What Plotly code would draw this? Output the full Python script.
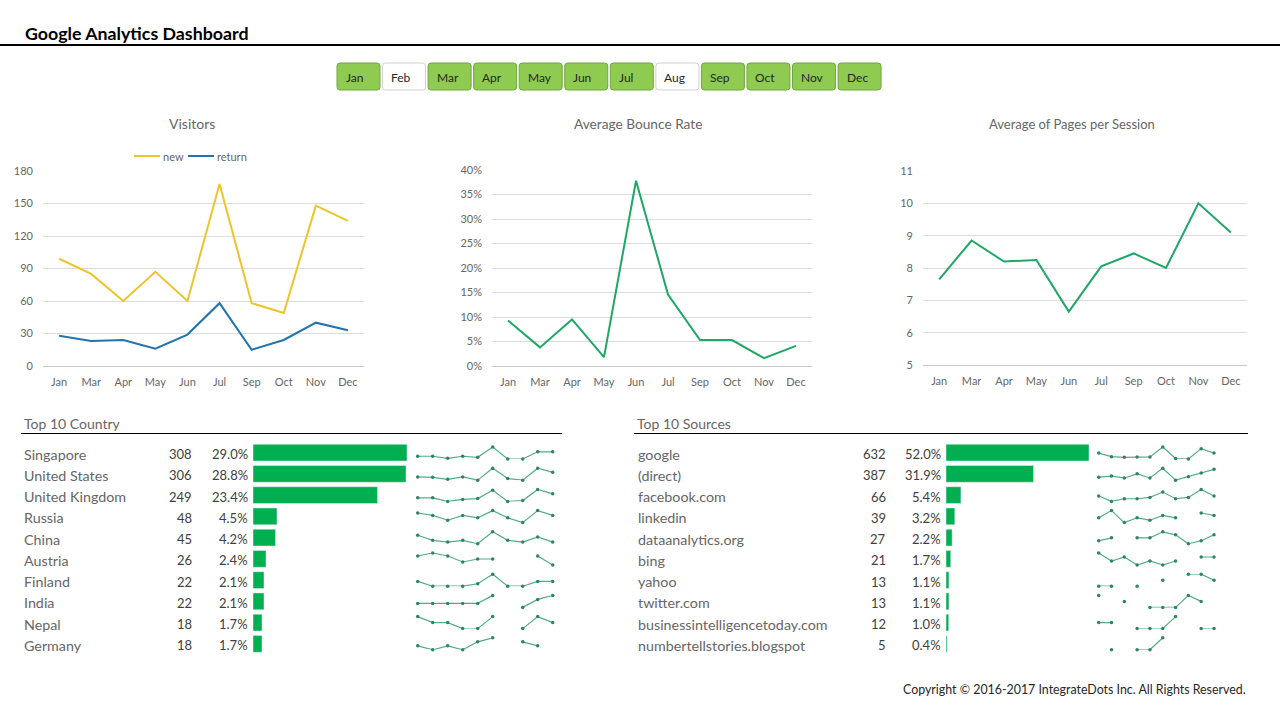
import plotly.graph_objects as go

W, H = 1280, 711
FONT = "Lato"
GREY = "#666666"
DARK = "#404040"
NEW_COLOR = "#EFC42B"
RETURN_COLOR = "#2274AE"

months = ["Jan", "Mar", "Apr", "May", "Jun", "Jul", "Sep", "Oct", "Nov", "Dec"]
buttons = ["Jan", "Feb", "Mar", "Apr", "May", "Jun", "Jul", "Aug", "Sep", "Oct", "Nov", "Dec"]
buttons_off = ["Feb", "Aug"]

visitors_new = [99, 85, 60, 87, 60, 168, 58, 49, 148, 134]
visitors_return = [28, 23, 24, 16, 29, 58, 15, 24, 40, 33]
bounce_rate = [0.093, 0.038, 0.095, 0.018, 0.378, 0.146, 0.053, 0.053, 0.016, 0.041]
pages_per_session = [7.65, 8.85, 8.2, 8.25, 6.65, 8.05, 8.45, 8.0, 10.0, 9.1]

countries = ["Singapore", "United States", "United Kingdom", "Russia", "China",
             "Austria", "Finland", "India", "Nepal", "Germany"]
country_counts = [308, 306, 249, 48, 45, 26, 22, 22, 18, 18]
country_pct = ["29.0%", "28.8%", "23.4%", "4.5%", "4.2%", "2.4%", "2.1%", "2.1%", "1.7%", "1.7%"]
country_monthly = [
    [28, 28, 22, 28, 25, 55, 20, 20, 41, 41],
    [28, 27, 22, 28, 20, 49, 24, 20, 49, 39],
    [23, 23, 14, 19, 21, 42, 14, 16, 44, 33],
    [6, 5, 3, 5, 4, 7, 4, 2, 7, 5],
    [7, 4, 3, 4, 2, 9, 4, 3, 6, 3],
    [4, 5, 4, 2, 3, 3, None, None, 4, 1],
    [3, 1, 1, 1, 2, 6, 1, 1, 3, 3],
    [2, 2, 2, 2, 2, 4, None, 1, 3, 4],
    [3, 2, 2, 1, 1, 3, None, 1, 3, 2],
    [2, 1, 2, 1, 3, 4, None, 3, 2, None],
]

sources = ["google", "(direct)", "facebook.com", "linkedin", "dataanalytics.org", "bing", "yahoo",
           "twitter.com", "businessintelligencetoday.com", "numbertellstories.blogspot"]
source_counts = [632, 387, 66, 39, 27, 21, 13, 13, 12, 5]
source_pct = ["52.0%", "31.9%", "5.4%", "3.2%", "2.2%", "1.7%", "1.1%", "1.1%", "1.0%", "0.4%"]
source_monthly = [
    [70, 55, 52, 54, 54, 96, 47, 45, 89, 70],
    [33, 36, 31, 42, 31, 57, 25, 34, 44, 54],
    [7, 3, 5, 5, 6, 10, 5, 6, 12, 7],
    [4, 7, 2, 4, 3, 5, 4, None, 6, 5],
    [2, 3, None, 3, 3, 5, 4, 1, 2, 4],
    [4, 2, 3, 1, 2, 1, 2, None, 3, 3],
    [1, 1, None, 1, None, 2, None, 3, 3, 2],
    [3, None, 2, None, 1, 1, 1, 3, 2, None],
    [2, 2, None, 1, 1, 1, 3, None, 1, 1],
    [None, 1, None, 1, 1, 2, None, None, None, None],
]


def px_x(a, b):
    return [a / W, b / W]


def px_y(top, bottom):
    return [1 - bottom / H, 1 - top / H]


def txt(x, y, s, size=14, color=GREY, anchor="left", yref="paper", bold=False, yshift=0):
    # annotation boxes carry about 2px of padding
    x = x + {"left": -2, "right": 2, "center": 0}[anchor]
    return dict(x=x / W, y=(1 - y / H) if yref == "paper" else y, xref="paper", yref=yref, text=s,
                showarrow=False, xanchor=anchor, yanchor="middle", yshift=yshift,
                font=dict(family=FONT, size=size, color=color, weight="bold" if bold else "normal"))


def line_chart_axes(n, x0, x1, top, bottom, y_range, dtick, fmt=None):
    tick = dict(family=FONT, size=11, color=GREY)
    fig.update_layout({
        f"xaxis{n}": dict(domain=px_x(x0, x1), anchor=f"y{n}", type="category", categoryorder="array",
                          categoryarray=months, range=[-0.5, 9.5], showgrid=False, showline=True,
                          linecolor="#c8c8c8", ticks="", tickfont=tick, ticklabelstandoff=6,
                          fixedrange=True),
        f"yaxis{n}": dict(domain=px_y(top, bottom), anchor=f"x{n}", range=y_range, dtick=dtick,
                          tick0=y_range[0], showgrid=True, gridcolor="#dcdcdc", gridwidth=1,
                          zeroline=False, showline=False, ticks="", tickfont=tick, tickformat=fmt,
                          ticklabelstandoff=9, fixedrange=True),
    })


fig = go.Figure()

# top line charts
fig.add_trace(go.Scatter(x=months, y=visitors_new, name="new", mode="lines", xaxis="x", yaxis="y",
                         showlegend=False, line=dict(color=NEW_COLOR, width=2)))
fig.add_trace(go.Scatter(x=months, y=visitors_return, name="return", mode="lines", xaxis="x", yaxis="y",
                         showlegend=False, line=dict(color=RETURN_COLOR, width=2)))
fig.add_trace(go.Scatter(x=months, y=bounce_rate, mode="lines", xaxis="x2", yaxis="y2", showlegend=False,
                         line=dict(color="#1EA765", width=2)))
fig.add_trace(go.Scatter(x=months, y=pages_per_session, mode="lines", xaxis="x3", yaxis="y3", showlegend=False,
                         line=dict(color="#1EA765", width=2)))
line_chart_axes("", 43, 364, 171, 366, [0, 180], 30)
line_chart_axes(2, 492, 812, 170, 366, [0, 0.4], 0.05, ".0%")
line_chart_axes(3, 923, 1247, 171, 365, [5, 11], 1)

# bar tables
fig.add_trace(go.Bar(y=countries, x=country_counts, orientation="h", xaxis="x4", yaxis="y4",
                     marker=dict(color="#00B050"), showlegend=False, width=0.79))
fig.add_trace(go.Bar(y=sources, x=source_counts, orientation="h", xaxis="x5", yaxis="y5",
                     marker=dict(color="#00B050"), showlegend=False, width=0.79))
for n, x0, x1, top_val, cats in [(4, 253, 407, 308, countries), (5, 946, 1089, 632, sources)]:
    fig.update_layout({
        f"xaxis{n}": dict(domain=px_x(x0, x1), anchor=f"y{n}", range=[0, top_val], visible=False, fixedrange=True),
        f"yaxis{n}": dict(domain=px_y(442, 654.5), anchor=f"x{n}", type="category", categoryorder="array",
                          categoryarray=cats, range=[9.5, -0.5], visible=False, fixedrange=True),
    })

# sparklines, each row scaled to its own min and max
fig.update_layout(
    xaxis6=dict(domain=px_x(417.7, 552.7), anchor="y6", type="category", categoryorder="array",
                categoryarray=months, range=[0, 9], visible=False, fixedrange=True),
    xaxis7=dict(domain=px_x(1098.7, 1214), anchor="y16", type="category", categoryorder="array",
                categoryarray=months, range=[0, 9], visible=False, fixedrange=True),
)
axis_no = 6
for xname, rows in [("x6", country_monthly), ("x7", source_monthly)]:
    for i, row in enumerate(rows):
        top = 447 + 21.2 * i
        vals = [v for v in row if v is not None]
        fig.add_trace(go.Scatter(x=months, y=row, mode="lines+markers", xaxis=xname, yaxis=f"y{axis_no}",
                                 showlegend=False, cliponaxis=False,
                                 line=dict(color="#55AD86", width=1.2),
                                 marker=dict(color="#2F8563", size=3.5)))
        fig.update_layout({f"yaxis{axis_no}": dict(domain=px_y(top, top + 12), anchor=xname,
                                                   range=[min(vals), max(vals)], visible=False, fixedrange=True)})
        axis_no += 1

annotations = [
    txt(25, 33, "Google Analytics Dashboard", size=17.8, color="#000000", bold=True),
    txt(192, 124, "Visitors", anchor="center", size=14),
    txt(638, 123, "Average Bounce Rate", anchor="center", size=13.7),
    txt(1072, 124, "Average of Pages per Session", anchor="center", size=13),
    txt(24, 423.5, "Top 10 Country"),
    txt(637, 423.5, "Top 10 Sources"),
    txt(1246, 689, "Copyright © 2016-2017 IntegrateDots Inc. All Rights Reserved.", size=12.4,
        color="#262626", anchor="right"),
    txt(163, 156, "new", size=11),
    txt(217, 156, "return", size=11),
]
for yref, cats, counts, pcts, xs in [
    ("y4", countries, country_counts, country_pct, (24, 192, 248)),
    ("y5", sources, source_counts, source_pct, (638, 886, 941)),
]:
    for cat, count, pct in zip(cats, counts, pcts):
        annotations.append(txt(xs[0], cat, cat, size=14.3, yref=yref, yshift=-1.5))
        annotations.append(txt(xs[1], cat, str(count), size=13, color=DARK, anchor="right", yref=yref, yshift=-1.5))
        annotations.append(txt(xs[2], cat, pct, size=13, color=DARK, anchor="right", yref=yref, yshift=-1.5))


def rounded(x0, y0, x1, y1, r=3):
    return (f"M{(x0 + r) / W},{1 - y0 / H} L{(x1 - r) / W},{1 - y0 / H} Q{x1 / W},{1 - y0 / H} {x1 / W},{1 - (y0 + r) / H} "
            f"L{x1 / W},{1 - (y1 - r) / H} Q{x1 / W},{1 - y1 / H} {(x1 - r) / W},{1 - y1 / H} "
            f"L{(x0 + r) / W},{1 - y1 / H} Q{x0 / W},{1 - y1 / H} {x0 / W},{1 - (y1 - r) / H} "
            f"L{x0 / W},{1 - (y0 + r) / H} Q{x0 / W},{1 - y0 / H} {(x0 + r) / W},{1 - y0 / H} Z")


shapes = [
    dict(type="line", xref="paper", yref="paper", x0=0, x1=1, y0=1 - 45 / H, y1=1 - 45 / H,
         line=dict(color="#000000", width=2)),
    dict(type="line", xref="paper", yref="paper", x0=21 / W, x1=562 / W, y0=1 - 433.5 / H, y1=1 - 433.5 / H,
         line=dict(color="#000000", width=1)),
    dict(type="line", xref="paper", yref="paper", x0=634 / W, x1=1248 / W, y0=1 - 433.5 / H, y1=1 - 433.5 / H,
         line=dict(color="#000000", width=1)),
    # legend keys, plotly's own legend cannot make them this short
    dict(type="line", xref="paper", yref="paper", x0=134 / W, x1=160 / W, y0=1 - 156 / H, y1=1 - 156 / H,
         line=dict(color=NEW_COLOR, width=2)),
    dict(type="line", xref="paper", yref="paper", x0=188 / W, x1=214 / W, y0=1 - 156 / H, y1=1 - 156 / H,
         line=dict(color=RETURN_COLOR, width=2)),
]
for i, m in enumerate(buttons):
    x0 = 337 + 45.55 * i
    off = m in buttons_off
    shapes.append(dict(type="path", xref="paper", yref="paper", path=rounded(x0, 63, x0 + 43, 90),
                       fillcolor="#FFFFFF" if off else "#8FCB50",
                       line=dict(color="#D0D0D0" if off else "#6FA83E", width=1)))
    annotations.append(txt(x0 + 8.5, 77, m, size=12, color="#262626"))

fig.update_layout(
    width=W, height=H, margin=dict(l=0, r=0, t=0, b=0, autoexpand=False), paper_bgcolor="white",
    plot_bgcolor="white", font=dict(family=FONT, color=GREY), annotations=annotations, shapes=shapes,
    hovermode=False,
)

fig.write_html("out.html", config={"displayModeBar": False},
               post_script="document.body.style.margin='0';")
